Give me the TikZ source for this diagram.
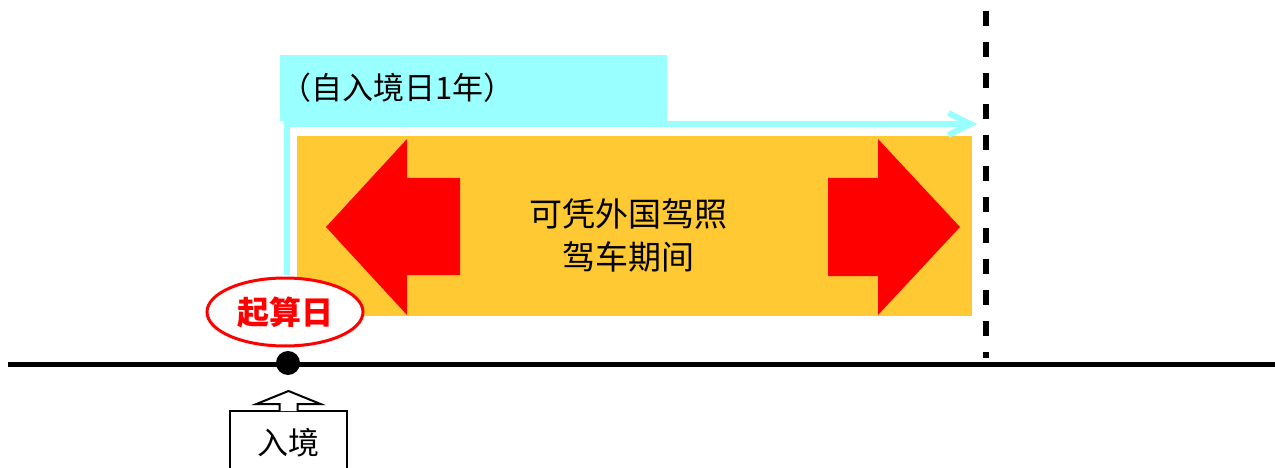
\documentclass[tikz,border=0pt]{standalone}
\usepackage{fontspec}
\newfontfamily\cjk{Noto Sans CJK SC}
\usetikzlibrary{arrows.meta, shapes.geometric}
\definecolor{periodorange}{RGB}{255,201,51}
\definecolor{yearcyan}{RGB}{153,255,255}
\begin{document}
\begin{tikzpicture}[x=1pt, y=-1pt,
    redarrow/.style={fill=red},
    yearline/.style={yearcyan, line width=6pt}]
                \useasboundingbox (0, 0) rectangle (1275, 468);

                \node[fill=periodorange, minimum width=675pt, minimum height=180pt, inner sep=0] (period) at (634.5, 226) {};
                \node[fill=yearcyan, minimum width=387pt, minimum height=66pt, inner sep=0] (year) at (473.5, 88) {};
                \node[anchor=west, inner sep=0, font=\cjk\fontsize{31}{31}\selectfont] (text1) at (280, 88) {（自入境日1年）};
                \node[align=center, inner sep=0, font=\cjk\fontsize{33}{43}\selectfont] (text2) at (628, 235) {可凭外国驾照\\驾车期间};

                \coordinate (entry) at (288, 363);
                \coordinate (yearstart) at (287, 275);
                \coordinate (yearend) at (977, 124);
                \coordinate (limittop) at (986, 11);
                \coordinate (limitbottom) at (986, 358);
                \coordinate (linestart) at (8, 364);
                \coordinate (lineend) at (1275, 364);

                % left arrow
                \fill[redarrow] (326, 227) -- (407, 139) -- (407, 178) -- (460, 178) -- (460, 275) -- (407, 275) -- (407, 315) -- cycle;

                % right arrow
                \fill[redarrow] (960, 227) -- (878, 139) -- (878, 178) -- (828, 178) -- (828, 276) -- (878, 276) -- (878, 315) -- cycle;

                % yearstart -> yearend
                \draw[yearline, -{Straight Barb[length=22pt, width=22pt]}] (yearstart) |- (yearend);

                % limit
                \draw[line width=6pt, dash pattern=on 15pt off 16pt] (limittop) -- (limitbottom);

                % time line
                \draw[line width=5pt] (linestart) -- (lineend);
                \fill (entry) circle (12);

                \node[ellipse, draw=red, line width=3pt, fill=white, minimum width=156pt, minimum height=68pt, inner sep=0, text=red, font=\cjk\bfseries\fontsize{32}{32}\selectfont] (start) at (285, 312) {起算日};

                \node[draw, line width=2pt, minimum width=117pt, minimum height=70pt, inner sep=0] (arrival) at (288.5, 446) {};
                \node[font=\cjk\fontsize{31}{31}\selectfont] (text3) at (288.5, 443) {入境};

                % arrival -> entry
                \draw[line width=2pt, fill=white] ([xshift=-9pt, yshift=-1pt] arrival.north) -- ++(0, -7) -- ++(-23, 0) -- ([yshift=19pt] arrival.north) -- ++(32, 13) -- ++(-23, 0) -- ++(0, 7);
\end{tikzpicture}
\end{document}
